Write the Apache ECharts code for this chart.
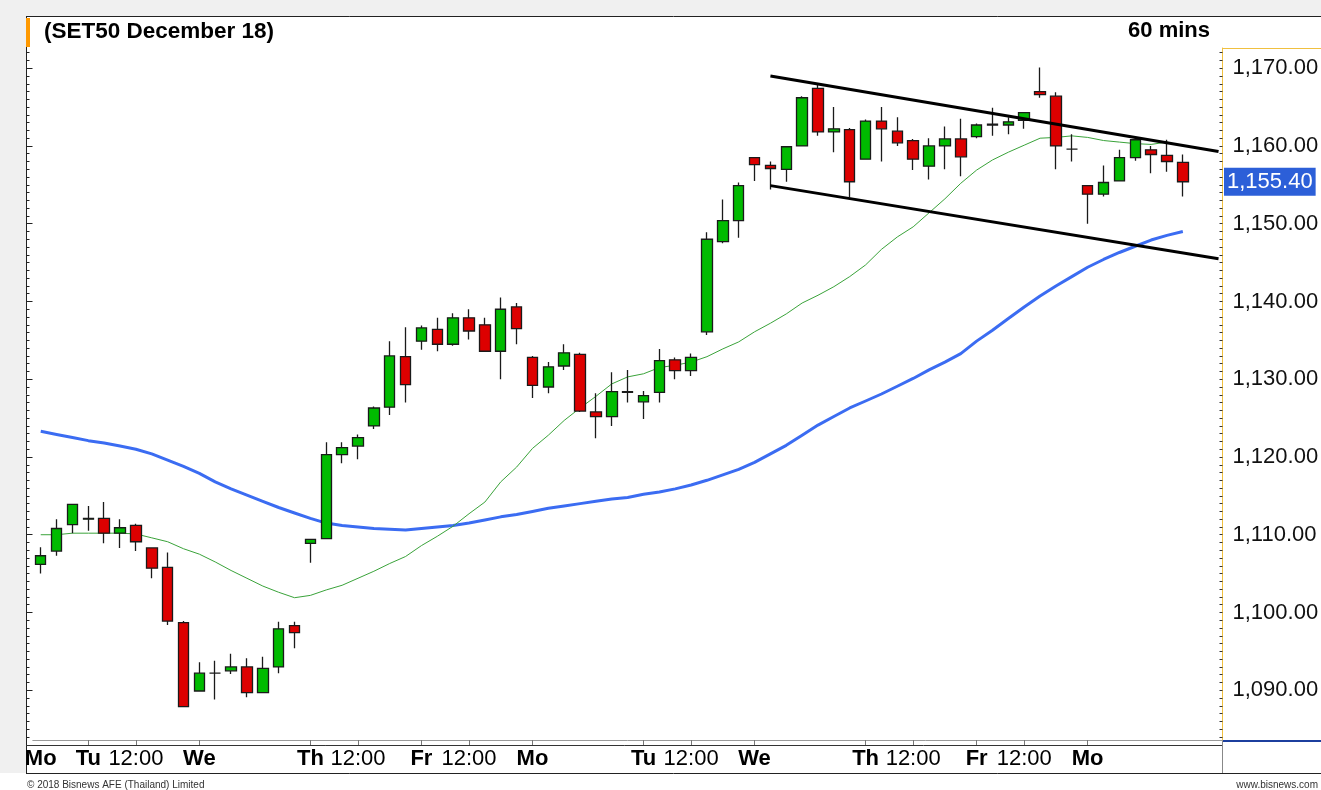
<!DOCTYPE html>
<html>
<head>
<meta charset="utf-8">
<title>SET50 December 18 - 60 mins</title>
<script src="https://cdn.jsdelivr.net/npm/echarts@6.0.0/dist/echarts.min.js"></script>
<style>
  html, body { margin: 0; padding: 0; background: #fff; }
  #chart { width: 1321px; height: 790px; }
</style>
</head>
<body>
<div id="chart"></div>
<script>
// hourly bars
const opens = [1106.2, 1107.9, 1111.3, 1112.0, 1112.1, 1110.2, 1111.2, 1108.3, 1105.8, 1098.7,
  1089.9, 1092.2, 1092.5, 1093.0, 1089.7, 1093.0, 1098.3, 1108.9, 1109.5, 1120.3,
  1121.4, 1124.0, 1126.4, 1132.9, 1134.9, 1136.4, 1134.5, 1137.9, 1137.0, 1133.6,
  1139.3, 1132.8, 1129.0, 1131.7, 1133.2, 1125.8, 1125.2, 1128.4, 1127.1, 1128.3,
  1132.5, 1131.1, 1136.1, 1147.7, 1150.4, 1158.5, 1157.5, 1157.0, 1160.0, 1167.4,
  1161.8, 1162.1, 1158.3, 1163.2, 1161.9, 1160.7, 1157.4, 1160.0, 1160.9, 1161.2,
  1162.7, 1162.7, 1163.3, 1167.0, 1166.4, 1159.6, 1154.9, 1153.8, 1155.5, 1158.5,
  1159.5, 1158.8, 1157.9];
const closes = [1107.3, 1110.8, 1113.9, 1112.1, 1110.2, 1110.9, 1109.1, 1105.7, 1098.9, 1087.9,
  1092.2, 1092.2, 1093.0, 1089.7, 1092.8, 1097.9, 1097.4, 1109.4, 1120.3, 1121.2,
  1122.5, 1126.3, 1133.0, 1129.3, 1136.6, 1134.5, 1137.9, 1136.2, 1133.6, 1139.0,
  1136.5, 1129.2, 1131.6, 1133.4, 1125.9, 1125.2, 1128.4, 1128.3, 1127.9, 1132.4,
  1131.1, 1132.8, 1148.0, 1150.4, 1154.9, 1157.6, 1157.1, 1159.9, 1166.2, 1161.8,
  1162.2, 1155.4, 1163.2, 1162.2, 1160.4, 1158.3, 1160.0, 1160.9, 1158.6, 1162.7,
  1162.8, 1163.1, 1164.3, 1166.6, 1160.0, 1159.6, 1153.8, 1155.3, 1158.5, 1160.8,
  1158.9, 1158.0, 1155.4];
const lows = [1105.0, 1107.3, 1110.2, 1110.5, 1108.9, 1108.3, 1107.9, 1104.4, 1098.4, 1087.9,
  1089.9, 1088.8, 1092.1, 1089.1, 1089.7, 1092.2, 1095.4, 1106.4, 1109.5, 1119.2,
  1119.7, 1123.6, 1125.4, 1127.0, 1133.8, 1133.6, 1134.3, 1135.1, 1133.6, 1130.0,
  1134.5, 1127.6, 1128.2, 1131.2, 1125.8, 1122.4, 1124.0, 1127.0, 1124.9, 1127.0,
  1130.0, 1130.4, 1135.7, 1147.5, 1148.2, 1155.5, 1154.4, 1155.4, 1160.0, 1161.3,
  1159.2, 1153.4, 1158.3, 1158.0, 1160.0, 1156.9, 1155.7, 1157.0, 1156.1, 1161.0,
  1161.3, 1161.5, 1162.2, 1166.2, 1157.0, 1158.0, 1150.0, 1153.5, 1155.5, 1158.1,
  1156.5, 1156.7, 1153.5];
const highs = [1108.4, 1112.0, 1113.9, 1113.7, 1114.2, 1112.0, 1111.4, 1108.3, 1107.7, 1098.9,
  1093.6, 1093.8, 1094.7, 1094.1, 1094.3, 1098.8, 1098.8, 1109.4, 1121.9, 1121.9,
  1122.9, 1126.5, 1134.9, 1136.7, 1136.9, 1137.9, 1138.5, 1139.0, 1137.9, 1140.5,
  1139.8, 1133.0, 1132.2, 1134.5, 1133.4, 1128.2, 1130.9, 1131.2, 1128.5, 1133.9,
  1132.8, 1133.3, 1148.9, 1153.1, 1155.3, 1158.5, 1158.0, 1160.0, 1166.4, 1167.9,
  1165.0, 1162.3, 1163.4, 1165.0, 1163.7, 1160.9, 1161.0, 1162.5, 1163.5, 1162.9,
  1164.9, 1163.7, 1164.3, 1170.1, 1166.9, 1161.5, 1154.9, 1157.5, 1159.5, 1161.0,
  1160.0, 1160.8, 1158.9];

// moving averages (thin green, thick blue)
const maShort = [1110.0, 1110.0, 1110.2, 1110.2, 1110.2, 1110.2, 1110.1, 1109.6, 1109.1, 1108.2,
  1107.5, 1106.5, 1105.4, 1104.4, 1103.4, 1102.6, 1101.9, 1102.2, 1102.9, 1103.5,
  1104.4, 1105.3, 1106.3, 1107.2, 1108.6, 1109.8, 1111.1, 1112.7, 1114.2, 1116.8,
  1118.7, 1121.1, 1122.8, 1124.7, 1126.3, 1127.8, 1129.4, 1130.3, 1130.7, 1131.5,
  1131.8, 1132.2, 1132.9, 1133.9, 1134.8, 1136.1, 1137.2, 1138.4, 1139.8, 1140.8,
  1141.9, 1143.2, 1144.7, 1146.7, 1148.3, 1149.6, 1151.4, 1153.2, 1155.2, 1156.9,
  1158.2, 1159.2, 1160.1, 1161.0, 1161.1, 1161.3, 1161.1, 1160.7, 1160.5, 1160.3,
  1160.2, 1160.5, 1160.0];
const maLong = [1123.3, 1122.9, 1122.5, 1122.1, 1121.8, 1121.4, 1121.0, 1120.4, 1119.6, 1118.8,
  1117.9, 1116.8, 1115.9, 1115.1, 1114.3, 1113.5, 1112.8, 1112.1, 1111.5, 1111.2,
  1111.0, 1110.8, 1110.7, 1110.6, 1110.8, 1111.0, 1111.2, 1111.5, 1111.9, 1112.3,
  1112.6, 1113.0, 1113.4, 1113.7, 1114.0, 1114.3, 1114.6, 1114.8, 1115.2, 1115.5,
  1115.9, 1116.4, 1117.0, 1117.7, 1118.4, 1119.3, 1120.4, 1121.5, 1122.8, 1124.1,
  1125.2, 1126.3, 1127.2, 1128.1, 1129.1, 1130.1, 1131.2, 1132.2, 1133.3, 1134.9,
  1136.3, 1137.8, 1139.3, 1140.7, 1142.0, 1143.2, 1144.4, 1145.4, 1146.3, 1147.1,
  1147.9, 1148.5, 1149.0];

// drawn channel: [bar index, price]
const channelUpper = [[46, 1169.0], [74.25, 1159.3]];
const channelLower = [[46, 1154.9], [74.25, 1145.5]];

// x axis: [bar index, label]
const dayTicks = [[0, 'Mo'], [3, 'Tu'], [10, 'We'], [17, 'Th'], [24, 'Fr'], [31, 'Mo'],
  [38, 'Tu'], [45, 'We'], [52, 'Th'], [59, 'Fr'], [66, 'Mo']];
const hourTicks = [[6, '12:00'], [20, '12:00'], [27, '12:00'], [41, '12:00'], [55, '12:00'], [62, '12:00']];
const yTickLabels = [1090, 1100, 1110, 1120, 1130, 1140, 1150, 1160, 1170];
const lastPrice = 1155.40;
const slotCount = 75; // bars + empty space on the right

const yMin = 1083.6;
const yMax = 1172.6;
const yMinor = [];
for (let v = Math.ceil(yMin); v <= yMax; v++) yMinor.push(v);

const labelMap = {};
dayTicks.forEach(([i, t]) => { labelMap[i] = '{d|' + t + '}'; });
hourTicks.forEach(([i, t]) => { labelMap[i] = '{t|' + t + '}'; });

const categories = [];
for (let i = 0; i < slotCount; i++) categories.push(String(i));

const candles = opens.map((o, i) => [o, closes[i], lows[i], highs[i]]);

const fmtPrice = (v) => v.toLocaleString('en-US', { minimumFractionDigits: 2, maximumFractionDigits: 2 });
const FONT = '"Liberation Sans", Arial, sans-serif';

const myChart = echarts.init(document.getElementById('chart'), null, { renderer: 'canvas' });

const option = {
  animation: false,
  backgroundColor: '#ffffff',
  textStyle: { fontFamily: FONT },
  grid: {
    left: 32.8,
    right: 98.5,
    top: 48,
    bottom: 50,
    containLabel: false,
    outerBoundsMode: 'none',
  },
  xAxis: [
    {
      type: 'category',
      data: categories,
      boundaryGap: true,
      axisLine: { onZero: false, lineStyle: { color: '#9a9a9a', width: 1 } },
      axisTick: {
        show: true,
        alignWithLabel: true,
        interval: (i) => labelMap[i] !== undefined && i !== 0,
        length: 5,
        lineStyle: { color: '#777' },
      },
      axisLabel: {
        interval: (i) => labelMap[i] !== undefined,
        formatter: (v) => labelMap[v] || '',
        margin: 8,
        color: '#000',
        rich: {
          d: { fontSize: 22, fontWeight: 'bold', fontFamily: FONT, color: '#000' },
          t: { fontSize: 22, fontFamily: FONT, color: '#000' },
        },
      },
      splitLine: { show: false },
    },
    {
      type: 'value',
      min: -0.5,
      max: slotCount - 0.5,
      show: false,
      axisLine: { onZero: false },
    },
  ],
  yAxis: [
    {
      type: 'value',
      position: 'right',
      min: yMin,
      max: yMax,
      scale: true,
      splitLine: { show: false },
      axisLine: { show: true, onZero: false, lineStyle: { color: '#f0c040', width: 1 } },
      axisTick: {
        show: true,
        inside: true,
        length: 3,
        customValues: yMinor,
        lineStyle: { color: '#333' },
      },
      axisLabel: {
        customValues: yTickLabels,
        formatter: fmtPrice,
        fontSize: 22,
        color: '#111',
        margin: 10,
        fontFamily: FONT,
      },
    },
    {
      type: 'value',
      position: 'left',
      offset: 6.3,
      min: yMin,
      max: yMax,
      scale: true,
      splitLine: { show: false },
      axisLine: { show: false, onZero: false },
      axisTick: { show: true, inside: true, length: 3, customValues: yMinor, lineStyle: { color: '#222' } },
      axisLabel: { show: false },
    },
    {
      type: 'value',
      position: 'left',
      offset: 6.3,
      min: yMin,
      max: yMax,
      scale: true,
      splitLine: { show: false },
      axisLine: { show: false, onZero: false },
      axisTick: { show: true, inside: true, length: 6, customValues: yTickLabels, lineStyle: { color: '#222' } },
      axisLabel: { show: false },
    },
  ],
  series: [
    {
      name: 'MA long',
      type: 'line',
      data: maLong,
      symbol: 'none',
      smooth: false,
      lineStyle: { color: '#3b6cf2', width: 3 },
      z: 2,
      silent: true,
    },
    {
      name: 'MA short',
      type: 'line',
      data: maShort,
      symbol: 'none',
      smooth: false,
      lineStyle: { color: '#3aa33a', width: 1 },
      z: 3,
      silent: true,
    },
    {
      name: 'SET50',
      type: 'candlestick',
      data: candles,
      barWidth: 11,
      z: 5,
      itemStyle: {
        color: '#00bb00',
        color0: '#dd0000',
        borderColor: '#1a1a1a',
        borderColor0: '#1a1a1a',
        borderColorDoji: '#1a1a1a',
        borderWidth: 1.3,
      },
      markLine: {
        silent: true,
        symbol: ['none', 'none'],
        lineStyle: { color: 'rgba(0,0,0,0)', width: 1, type: 'solid' },
        label: {
          show: true,
          position: 'end',
          distance: 1.5,
          formatter: () => fmtPrice(lastPrice),
          backgroundColor: '#2c5fd8',
          color: '#fff',
          fontSize: 22,
          fontFamily: FONT,
          padding: [3, 3, 3, 3],
        },
        emphasis: { disabled: true },
        data: [{ yAxis: lastPrice }],
      },
    },
    {
      name: 'channel top',
      type: 'line',
      xAxisIndex: 1,
      data: channelUpper,
      symbol: 'none',
      lineStyle: { color: '#000', width: 3 },
      z: 6,
      silent: true,
    },
    {
      name: 'channel bottom',
      type: 'line',
      xAxisIndex: 1,
      data: channelLower,
      symbol: 'none',
      lineStyle: { color: '#000', width: 3 },
      z: 6,
      silent: true,
    },
  ],
  graphic: [
    { type: 'rect', shape: { x: 0, y: 0, width: 1321, height: 16 }, style: { fill: '#f0f0f0' }, silent: true },
    { type: 'rect', shape: { x: 0, y: 0, width: 26, height: 773 }, style: { fill: '#f0f0f0' }, silent: true },
    { type: 'line', shape: { x1: 26, y1: 16.5, x2: 1321, y2: 16.5 }, style: { stroke: '#222', lineWidth: 1 }, silent: true },
    { type: 'line', shape: { x1: 26.5, y1: 16, x2: 26.5, y2: 773 }, style: { stroke: '#222', lineWidth: 1 }, silent: true },
    { type: 'line', shape: { x1: 26, y1: 773.5, x2: 1321, y2: 773.5 }, style: { stroke: '#222', lineWidth: 1 }, silent: true },
    { type: 'line', shape: { x1: 26, y1: 745.5, x2: 1222.5, y2: 745.5 }, style: { stroke: '#333', lineWidth: 1 }, silent: true },
    { type: 'line', shape: { x1: 1222.5, y1: 740, x2: 1222.5, y2: 773 }, style: { stroke: '#888', lineWidth: 1 }, silent: true },
    { type: 'line', shape: { x1: 1222.5, y1: 48.5, x2: 1321, y2: 48.5 }, style: { stroke: '#f0c040', lineWidth: 1 }, silent: true },
    { type: 'line', shape: { x1: 1223, y1: 741, x2: 1321, y2: 741 }, style: { stroke: '#1c3f9e', lineWidth: 2 }, silent: true },
    { type: 'rect', shape: { x: 26, y: 18, width: 4, height: 29 }, style: { fill: '#ff9900' }, silent: true },
    {
      type: 'text', left: 44, top: 20, silent: true,
      style: { text: '(SET50 December 18)', font: 'bold 22.5px ' + FONT, fill: '#000' },
    },
    {
      type: 'text', right: 111, top: 20, silent: true,
      style: { text: '60 mins', font: 'bold 22px ' + FONT, fill: '#000' },
    },
    {
      type: 'text', left: 27, top: 780, silent: true,
      style: { text: '\u00a9 2018 Bisnews AFE (Thailand) Limited', font: '10px ' + FONT, fill: '#333' },
    },
    {
      type: 'text', right: 3, top: 780, silent: true,
      style: { text: 'www.bisnews.com', font: '10px ' + FONT, fill: '#333' },
    },
  ],
};

myChart.setOption(option);
window.addEventListener('resize', () => {
  myChart.resize();
});
</script>
</body>
</html>
